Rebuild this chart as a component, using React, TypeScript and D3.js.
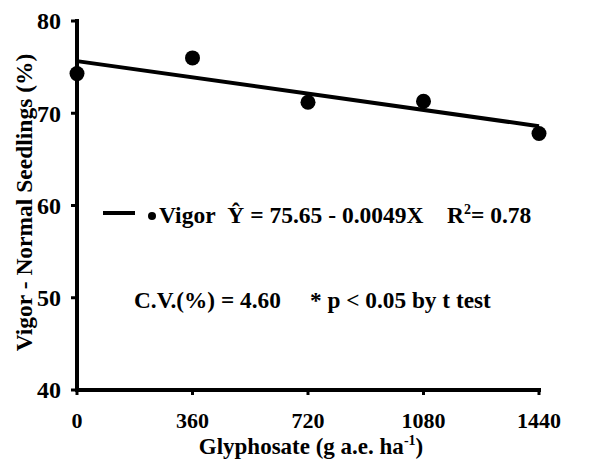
import * as d3 from "d3";

// data
const doses = [0, 360, 720, 1080, 1440];
const vigor = [74.3, 76.0, 71.2, 71.3, 67.8];
const xTicks = [0, 360, 720, 1080, 1440];
const yTicks = [40, 50, 60, 70, 80];
const intercept = 75.65;
const slope = -0.0049;

export default function App() {
  const width = 609;
  const height = 461;
  const margin = { top: 21, right: 70, bottom: 71, left: 77 };

  const x = d3
    .scaleLinear()
    .domain([0, 1440])
    .range([margin.left, width - margin.right]);
  const y = d3
    .scaleLinear()
    .domain([40, 80])
    .range([height - margin.bottom, margin.top]);

  const fit = d3
    .line<number>()
    .x((d) => x(d))
    .y((d) => y(intercept + slope * d));

  return (
    <svg
      width={width}
      height={height}
      style={{
        position: "absolute",
        left: 0,
        top: 0,
        background: "#fff",
        fontFamily: "Liberation Serif",
        fontWeight: "bold",
      }}
    >
      {/* axes */}
      <line x1={x(0)} x2={x(0)} y1={y(80) - 2} y2={y(40) + 2} stroke="#000" strokeWidth={4} />
      <line x1={x(0) - 2} x2={x(1440) + 2} y1={y(40)} y2={y(40)} stroke="#000" strokeWidth={4} />
      {yTicks.map((t) => (
        <g key={"y" + t}>
          <line x1={x(0) - 6} x2={x(0)} y1={y(t)} y2={y(t)} stroke="#000" strokeWidth={3} />
          <text x={x(0) - 16} y={y(t)} dy="0.35em" textAnchor="end" fontSize={24}>
            {t}
          </text>
        </g>
      ))}
      {xTicks.map((t) => (
        <g key={"x" + t}>
          <line x1={x(t)} x2={x(t)} y1={y(40)} y2={y(40) + 5} stroke="#000" strokeWidth={3} />
          <text x={x(t)} y={y(40) + 38} textAnchor="middle" fontSize={22}>
            {t}
          </text>
        </g>
      ))}

      {/* fit and points */}
      <path d={fit([0, 1440]) ?? ""} fill="none" stroke="#000" strokeWidth={4} />
      {doses.map((d, i) => (
        <circle key={d} cx={x(d)} cy={y(vigor[i])} r={7.5} fill="#000" />
      ))}

      {/* legend */}
      <line x1={103} x2={135} y1={213} y2={213} stroke="#000" strokeWidth={4} />
      <circle cx={152} cy={216} r={4} fill="#000" />
      <text x={159} y={223} fontSize={23.5}>
        Vigor{"\u00A0 "}Ŷ = 75.65 - 0.0049X{"\u00A0\u00A0\u00A0 "}R
        <tspan dy={-9} fontSize={14}>2</tspan>
        <tspan dy={9}>= 0.78</tspan>
      </text>
      <text x={134} y={308} fontSize={23.3}>
        C.V.(%) = 4.60{"\u00A0\u00A0\u00A0\u00A0 "}* p {"<"} 0.05 by t test
      </text>

      {/* axis titles */}
      <text x={311} y={454} textAnchor="middle" fontSize={23}>
        Glyphosate (g a.e. ha
        <tspan dy={-9} fontSize={14}>-1</tspan>
        <tspan dy={9}>)</tspan>
      </text>
      <text
        transform={`translate(32, ${y(60) - 3}) rotate(-90)`}
        textAnchor="middle"
        fontSize={23.5}
      >
        Vigor - Normal Seedlings (%)
      </text>
    </svg>
  );
}
